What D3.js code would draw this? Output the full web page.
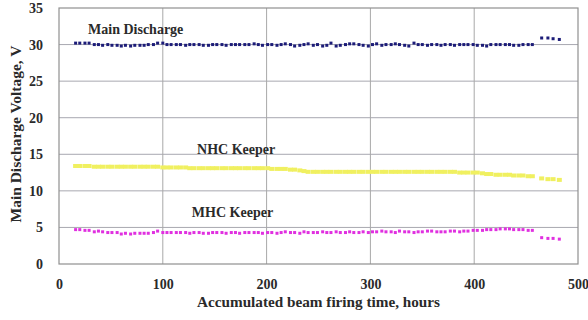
<!DOCTYPE html>
<html>
<head>
<meta charset="utf-8">
<script src="https://cdn.jsdelivr.net/npm/d3@7"></script>
<style>
  html, body { margin: 0; padding: 0; background: #fff; }
  svg { display: block; }
  text { font-family: "Liberation Serif", "Times New Roman", serif; font-weight: bold; fill: #2a2a2a; }
</style>
</head>
<body>
<svg id="chart" width="588" height="320"></svg>
<script>
// Accumulated beam firing time (hours) for each recorded sample
const hours = [
  16, 20, 25, 29, 34, 38, 42, 47, 51, 56,
  60, 64, 69, 73, 78, 82, 86, 91, 95, 100,
  104, 108, 113, 117, 122, 126, 130, 135, 139, 144,
  148, 152, 157, 161, 166, 170, 174, 179, 183, 188,
  192, 196, 201, 205, 210, 214, 218, 223, 227, 232,
  236, 240, 245, 249, 254, 258, 262, 267, 271, 276,
  280, 284, 289, 293, 298, 302, 306, 311, 315, 320,
  324, 328, 333, 337, 342, 346, 350, 355, 359, 364,
  368, 372, 377, 381, 386, 390, 394, 399, 403, 408,
  412, 416, 421, 425, 430, 434, 438, 443, 447, 452,
  456, 465, 471, 476, 482
];

// Main discharge voltage, V
const mainDischarge = [
  30.2, 30.2, 30.2, 30.2, 30.0, 30.0, 29.9, 30.0, 29.9, 29.9,
  29.8, 29.9, 29.8, 29.9, 29.9, 29.9, 30.0, 30.0, 30.2, 30.2,
  30.0, 30.0, 30.0, 30.0, 29.9, 30.0, 30.0, 30.0, 29.9, 29.9,
  30.0, 30.0, 30.0, 29.9, 30.0, 30.0, 30.0, 30.0, 30.0, 30.1,
  30.0, 29.9, 30.0, 30.0, 29.9, 30.0, 30.1, 30.0, 29.8, 29.9,
  30.0, 30.1, 29.9, 30.0, 29.8, 29.9, 30.2, 29.8, 29.9, 30.0,
  30.1, 30.1, 30.0, 29.9, 29.8, 30.0, 30.1, 29.9, 30.0, 30.0,
  30.1, 30.0, 29.9, 29.8, 30.2, 30.0, 30.0, 29.9, 30.0, 30.0,
  29.9, 30.0, 30.0, 29.9, 30.0, 30.0, 30.0, 30.0, 29.9, 29.9,
  29.8, 30.0, 30.0, 30.0, 30.0, 30.0, 29.9, 29.9, 30.0, 30.0,
  30.0, 30.9, 30.9, 30.8, 30.7
];

// NHC keeper voltage, V
const nhcKeeper = [
  13.4, 13.4, 13.4, 13.4, 13.3, 13.3, 13.3, 13.3, 13.3, 13.3,
  13.3, 13.3, 13.3, 13.3, 13.3, 13.3, 13.3, 13.3, 13.3, 13.2,
  13.2, 13.2, 13.2, 13.2, 13.2, 13.1, 13.1, 13.1, 13.1, 13.1,
  13.1, 13.1, 13.1, 13.1, 13.1, 13.1, 13.1, 13.1, 13.1, 13.1,
  13.1, 13.1, 13.1, 13.0, 13.0, 13.0, 13.0, 12.9, 12.9, 12.8,
  12.7, 12.6, 12.6, 12.6, 12.6, 12.6, 12.6, 12.6, 12.6, 12.6,
  12.6, 12.6, 12.6, 12.6, 12.6, 12.6, 12.6, 12.6, 12.6, 12.6,
  12.6, 12.6, 12.6, 12.6, 12.6, 12.6, 12.6, 12.6, 12.6, 12.6,
  12.6, 12.6, 12.6, 12.6, 12.5, 12.5, 12.5, 12.5, 12.5, 12.4,
  12.3, 12.3, 12.2, 12.2, 12.2, 12.2, 12.1, 12.1, 12.1, 12.0,
  12.0, 11.7, 11.6, 11.6, 11.5
];

// MHC keeper voltage, V
const mhcKeeper = [
  4.7, 4.7, 4.6, 4.6, 4.4, 4.5, 4.4, 4.3, 4.3, 4.3,
  4.1, 4.2, 4.1, 4.2, 4.2, 4.2, 4.2, 4.3, 4.5, 4.3,
  4.3, 4.3, 4.3, 4.3, 4.3, 4.2, 4.3, 4.3, 4.2, 4.2,
  4.3, 4.3, 4.3, 4.2, 4.3, 4.3, 4.2, 4.3, 4.3, 4.3,
  4.3, 4.2, 4.3, 4.3, 4.2, 4.3, 4.4, 4.3, 4.3, 4.2,
  4.4, 4.3, 4.3, 4.3, 4.4, 4.3, 4.3, 4.4, 4.3, 4.3,
  4.4, 4.3, 4.3, 4.4, 4.3, 4.4, 4.4, 4.5, 4.4, 4.4,
  4.3, 4.5, 4.4, 4.4, 4.3, 4.4, 4.4, 4.5, 4.5, 4.4,
  4.4, 4.4, 4.5, 4.5, 4.4, 4.5, 4.5, 4.6, 4.6, 4.6,
  4.7, 4.7, 4.7, 4.8, 4.8, 4.8, 4.7, 4.7, 4.7, 4.6,
  4.6, 3.6, 3.5, 3.5, 3.4
];

const xTicks = [0, 100, 200, 300, 400, 500];
const yTicks = [0, 5, 10, 15, 20, 25, 30, 35];

const seriesNames = ["Main Discharge", "NHC Keeper", "MHC Keeper"];
const seriesValues = [mainDischarge, nhcKeeper, mhcKeeper];
const seriesColors = ["#1c1c78", "#f0f060", "#e030e0"];
const markerW = [3, 5, 3];
const markerH = [3, 4, 3];
// label anchor in data units: [hours, volts]
const labelPos = [[28, 31.45], [133, 15.05], [128, 6.45]];

const svg = d3.select("#chart");
const margin = { left: 59, right: 10, top: 8, bottom: 56 };
const W = 588, H = 320;

const x = d3.scaleLinear().domain([0, 500]).range([margin.left, W - margin.right]);
const y = d3.scaleLinear().domain([0, 35]).range([H - margin.bottom, margin.top]);

// gridlines
svg.append("g")
  .selectAll("line")
  .data(yTicks.filter(d => d > 0 && d < 35))
  .join("line")
  .attr("x1", x(0)).attr("x2", x(500))
  .attr("y1", d => y(d)).attr("y2", d => y(d))
  .attr("stroke", "#a8a8b0").attr("stroke-width", 1);

svg.append("g")
  .selectAll("line")
  .data(xTicks.filter(d => d > 0 && d < 500))
  .join("line")
  .attr("y1", y(0)).attr("y2", y(35))
  .attr("x1", d => x(d)).attr("x2", d => x(d))
  .attr("stroke", "#a8a8a8").attr("stroke-width", 1);

// plot frame
svg.append("rect")
  .attr("x", x(0)).attr("y", y(35))
  .attr("width", x(500) - x(0)).attr("height", y(0) - y(35))
  .attr("fill", "none").attr("stroke", "#909090").attr("stroke-width", 1.2);

// axes (labels only, no tick marks)
const yAxis = d3.axisLeft(y).tickValues(yTicks).tickSize(0).tickPadding(16);
svg.append("g").attr("transform", `translate(${x(0)},0)`).call(yAxis)
  .call(g => g.select(".domain").remove())
  .selectAll("text").style("font-size", "14px").style("font-family", null);

const xAxis = d3.axisBottom(x).tickValues(xTicks).tickSize(0).tickPadding(15);
svg.append("g").attr("transform", `translate(0,${y(0)})`).call(xAxis)
  .call(g => g.select(".domain").remove())
  .selectAll("text").style("font-size", "14px").style("font-family", null);

// markers for each series
seriesValues.forEach((vals, i) => {
  const w = markerW[i], h = markerH[i];
  svg.append("g")
    .selectAll("rect")
    .data(vals.map((v, j) => [hours[j], v]))
    .join("rect")
    .attr("x", d => x(d[0]) - w / 2)
    .attr("y", d => y(d[1]) - h / 2)
    .attr("width", w).attr("height", h)
    .attr("fill", seriesColors[i]);
});

// series labels
svg.append("g")
  .selectAll("text")
  .data(seriesNames)
  .join("text")
  .attr("x", (d, i) => x(labelPos[i][0]))
  .attr("y", (d, i) => y(labelPos[i][1]))
  .style("font-size", "14px")
  .text(d => d);

// axis titles
svg.append("text")
  .attr("x", (x(0) + x(500)) / 2).attr("y", 307)
  .attr("text-anchor", "middle")
  .attr("textLength", 243).attr("lengthAdjust", "spacingAndGlyphs")
  .style("font-size", "14px")
  .text("Accumulated beam firing time, hours");

svg.append("text")
  .attr("transform", `translate(21,134) rotate(-90)`)
  .attr("text-anchor", "middle")
  .attr("textLength", 177).attr("lengthAdjust", "spacingAndGlyphs")
  .style("font-size", "14px")
  .text("Main Discharge Voltage, V");
</script>
</body>
</html>
